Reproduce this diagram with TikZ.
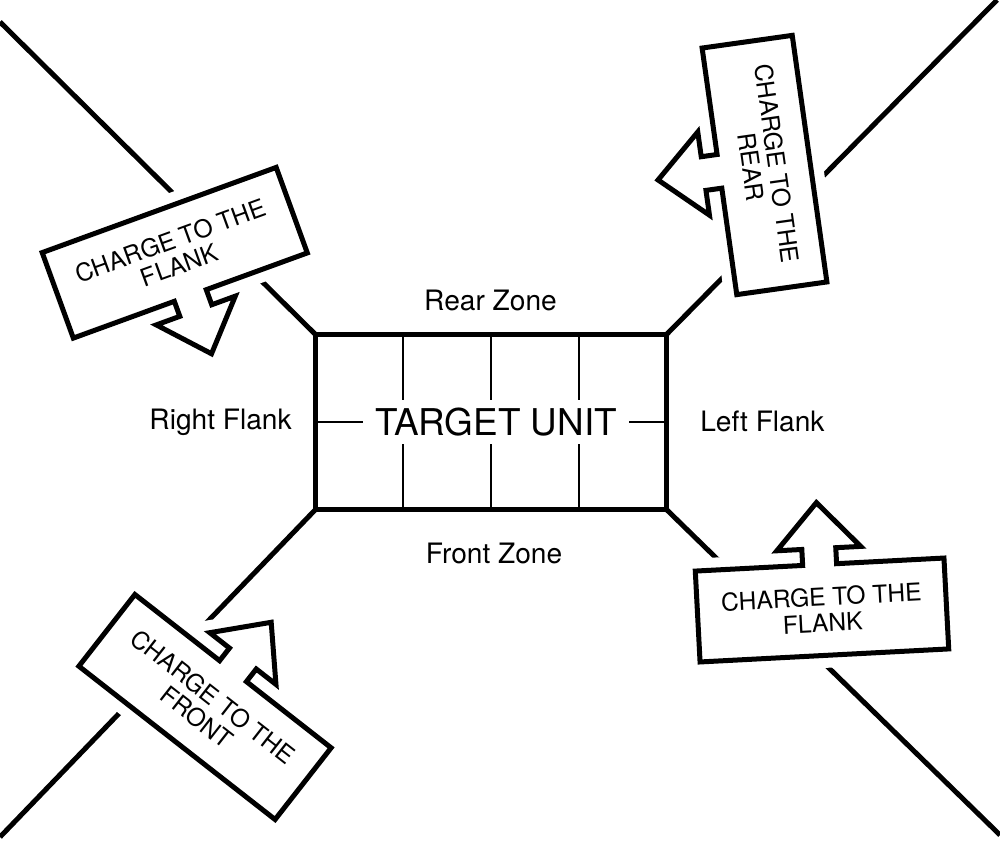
\documentclass[tikz,border=0pt]{standalone}
\usepackage{fontspec}
\setmainfont{TeX Gyre Heros}
\usetikzlibrary{calc}

\tikzset{
  heavy/.style={line width=0.1cm},
  grid line/.style={line width=0.04cm},
  zone label/.style={font=\fontsize{16}{18}\selectfont, inner sep=0pt},
  charge box/.style={preaction={draw=white, line width=0.5cm}, fill=white, draw=black, line width=0.1cm, line join=miter},
  charge text/.style={align=center, font=\fontsize{14}{14.7}\selectfont, inner sep=0pt},
}

\begin{document}
\begin{tikzpicture}[x=0.02cm,y=0.02cm]
\useasboundingbox (0,0) rectangle (1000,860);
\def\bw{124.5}
\def\bh{45.5}
\def\chargeoutline{(-\bw,-\bh) -- (\bw,-\bh) -- (\bw,\bh) -- (17,\bh) -- (17,\bh+16) -- (42,\bh+16) -- (0,\bh+62) -- (-42,\bh+16) -- (-17,\bh+16) -- (-17,\bh) -- (-\bw,\bh) -- cycle}

% the unit
\node[heavy, draw, minimum width=7.02cm, minimum height=3.5cm, inner sep=0pt, outer sep=0pt] (unit) at (491,438) {};
\foreach \f in {0.25,0.5,0.75}
  \draw[grid line] ($(unit.north west)!\f!(unit.north east)$) -- ($(unit.south west)!\f!(unit.south east)$);
\draw[grid line] (unit.west) -- (unit.east);
\node[fill=white, inner xsep=0.24cm, inner ysep=0.15cm, font=\fontsize{21}{24}\selectfont] (title) at ($(unit.center)+(5,0)$) {TARGET UNIT};

% zones
\node[zone label, anchor=base] (rear) at (490.5,550) {Rear Zone};
\node[zone label, anchor=base] (front) at (494,297) {Front Zone};
\node[zone label, anchor=base east] (rflank) at (292,431) {Right Flank};
\node[zone label, anchor=base west] (lflank) at (700,429) {Left Flank};

% corner lines
\coordinate (nw end) at (0,838);
\coordinate (ne end) at (997,860);
\coordinate (sw end) at (0,23);
\coordinate (se end) at (1000,25);
\draw[heavy] (unit.north west) -- (nw end);
\draw[heavy] (unit.north east) -- (ne end);
\draw[heavy] (unit.south west) -- (sw end);
\draw[heavy] (unit.south east) -- (se end);

% charges
\draw[charge box, shift={(174.75,607.25)}, rotate=20, yscale=-1] \chargeoutline;
\node[charge text, rotate=20] (charge rflank) at (174.75,607.25) {CHARGE TO THE\\FLANK};

\draw[charge box, shift={(764.5,695)}, rotate=-82, yscale=-1] \chargeoutline;
\node[charge text, rotate=-82] (charge rear) at (764.5,695) {CHARGE TO THE\\REAR};

\draw[charge box, shift={(205,153)}, rotate=-38] \chargeoutline;
\node[charge text, rotate=-38] (charge front) at (205,153) {CHARGE TO THE\\FRONT};

\draw[charge box, shift={(822,250)}, rotate=3] \chargeoutline;
\node[charge text, rotate=3] (charge lflank) at (822,250) {CHARGE TO THE\\FLANK};
\end{tikzpicture}
\end{document}
